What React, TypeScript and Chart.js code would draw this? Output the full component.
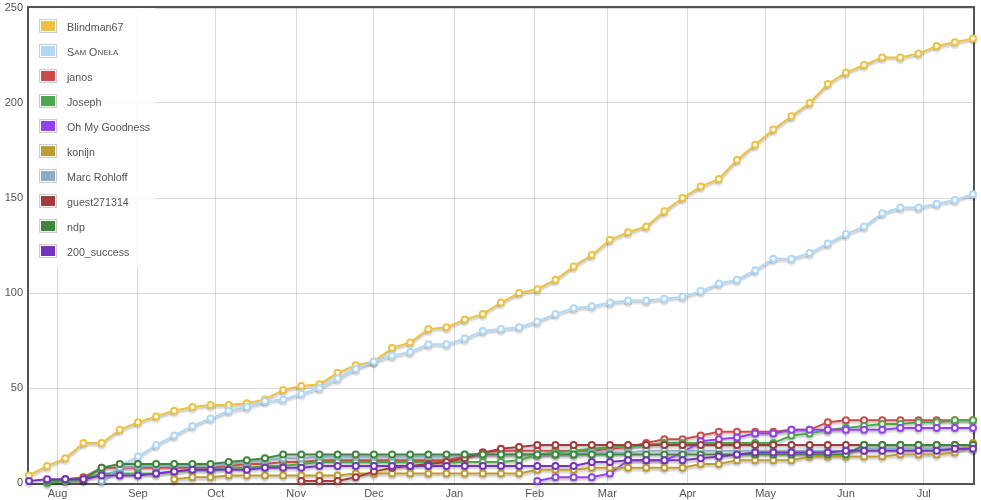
import React, { useEffect, useRef } from 'react';
import { Chart, registerables } from 'chart.js';

Chart.register(...registerables);

const DATES = [
  '2014-07-21', '2014-07-28', '2014-08-04', '2014-08-11', '2014-08-18', '2014-08-25',
  '2014-09-01', '2014-09-08', '2014-09-15', '2014-09-22', '2014-09-29',
  '2014-10-06', '2014-10-13', '2014-10-20', '2014-10-27',
  '2014-11-03', '2014-11-10', '2014-11-17', '2014-11-24',
  '2014-12-01', '2014-12-08', '2014-12-15', '2014-12-22', '2014-12-29',
  '2015-01-05', '2015-01-12', '2015-01-19', '2015-01-26',
  '2015-02-02', '2015-02-09', '2015-02-16', '2015-02-23',
  '2015-03-02', '2015-03-09', '2015-03-16', '2015-03-23', '2015-03-30',
  '2015-04-06', '2015-04-13', '2015-04-20', '2015-04-27',
  '2015-05-04', '2015-05-11', '2015-05-18', '2015-05-25',
  '2015-06-01', '2015-06-08', '2015-06-15', '2015-06-22', '2015-06-29',
  '2015-07-06', '2015-07-13', '2015-07-20',
];

const MONTH_STARTS = [
  '2014-08-01', '2014-09-01', '2014-10-01', '2014-11-01', '2014-12-01', '2015-01-01',
  '2015-02-01', '2015-03-01', '2015-04-01', '2015-05-01', '2015-06-01', '2015-07-01',
];
const MONTH_LABELS = ['Aug', 'Sep', 'Oct', 'Nov', 'Dec', 'Jan', 'Feb', 'Mar', 'Apr', 'May', 'Jun', 'Jul'];

const Y_MIN = 0;
const Y_MAX = 250;
const Y_STEP = 50;

const N = null;

const BLINDMAN67 = [4, 9, 13, 21, 21, 28, 32, 35, 38, 40, 41, 41, 42, 44, 49, 51, 52, 58, 62, 64, 71, 74, 81, 82, 86, 89, 95, 100, 102, 107, 114, 120, 128, 132, 135, 143, 150, 156, 160, 170, 178, 186, 193, 200, 210, 216, 220, 224, 224, 226, 230, 232, 234];
const SAM_ONELA = [N, N, N, N, 2, 9, 14, 20, 25, 30, 34, 38, 40, 43, 44, 47, 50, 55, 60, 64, 67, 69, 73, 73, 76, 80, 81, 82, 85, 89, 92, 93, 95, 96, 96, 97, 98, 101, 105, 107, 112, 118, 118, 121, 126, 131, 135, 142, 145, 145, 147, 149, 152];
const JANOS = [N, N, 2, 3, 8, 8, 8, 8, 8, 8, 8, 9, 10, 10, 11, 11, 12, 12, 12, 12, 12, 12, 12, 12, 14, 16, 17, 17, 17, 17, 17, 17, 18, 19, 21, 23, 23, 25, 27, 27, 27, 27, 28, 28, 32, 33, 33, 33, 33, 33, 33, 33, 33];
const JOSEPH = [N, 0, 1, 2, 5, 5, 5, 5, 6, 7, 7, 8, 8, 9, 9, 10, 11, 11, 11, 11, 11, 11, 11, 11, 11, 11, 11, 12, 15, 16, 17, 18, 19, 19, 20, 21, 21, 21, 21, 21, 21, 21, 25, 26, 28, 29, 30, 31, 31, 32, 32, 33, 33];
const OH_MY_GOODNESS = [N, N, N, N, N, N, N, N, N, N, N, N, N, N, N, N, N, N, N, N, N, N, N, N, N, N, N, N, 1, 3, 3, 3, 5, 12, 12, 12, 16, 22, 23, 24, 26, 26, 28, 28, 28, 28, 28, 28, 29, 29, 29, 29, 29];
const KONIJN = [N, N, N, N, N, N, N, N, 2, 3, 3, 4, 4, 4, 4, 4, 4, 4, 5, 5, 5, 5, 5, 5, 5, 5, 5, 5, 7, 7, 7, 8, 8, 8, 8, 8, 8, 10, 10, 12, 12, 12, 12, 14, 14, 14, 14, 14, 15, 15, 15, 16, 21];
const MARC_ROHLOFF = [N, N, N, N, 1, 8, 9, 9, 9, 9, 9, 10, 11, 12, 13, 13, 14, 14, 14, 14, 14, 14, 14, 14, 15, 15, 15, 15, 15, 15, 15, 16, 16, 16, 17, 17, 17, 17, 17, 17, 17, 17, 17, 17, 17, 17, 18, 18, 18, 18, 18, 18, 18];
const GUEST271314 = [N, N, N, N, N, N, N, N, N, N, N, N, N, N, N, 1, 1, 1, 3, 6, 8, 9, 10, 11, 13, 16, 18, 19, 20, 20, 20, 20, 20, 20, 20, 20, 20, 20, 20, 20, 20, 20, 20, 20, 20, 20, 20, 20, 20, 20, 20, 20, 20];
const NDP = [N, 1, 2, 2, 8, 10, 10, 10, 10, 10, 10, 11, 12, 13, 15, 15, 15, 15, 15, 15, 15, 15, 15, 15, 15, 15, 15, 15, 15, 15, 15, 15, 15, 15, 15, 15, 15, 15, 15, 15, 15, 15, 15, 15, 15, 15, 20, 20, 20, 20, 20, 20, 20];
const SUCCESS_200 = [1, 2, 2, 2, 4, 4, 4, 5, 6, 7, 7, 7, 7, 8, 8, 8, 9, 9, 9, 9, 9, 9, 9, 9, 9, 9, 9, 9, 9, 9, 9, 11, 11, 12, 12, 12, 12, 13, 14, 15, 16, 16, 16, 16, 16, 17, 17, 17, 17, 17, 17, 18, 18];

const SERIES_NAMES = ['Blindman67', 'Sam Oneła', 'janos', 'Joseph', 'Oh My Goodness', 'konijn', 'Marc Rohloff', 'guest271314', 'ndp', '200_success'];
const SERIES_VALUES = [BLINDMAN67, SAM_ONELA, JANOS, JOSEPH, OH_MY_GOODNESS, KONIJN, MARC_ROHLOFF, GUEST271314, NDP, SUCCESS_200];
const SERIES_COLORS = ['#edc240', '#afd8f8', '#cb4b4b', '#4da74d', '#9440ed', '#be9b33', '#8cadc6', '#a23c3c', '#3e863e', '#7633be'];

const FONT = '"Liberation Sans", Arial, Helvetica, sans-serif';
const TEXT_COLOR = '#545454';
const GRID_COLOR = 'rgba(84,84,84,0.22)';

const dayOf = (s: string) =>
  (Date.parse(s + 'T00:00:00Z') - Date.parse(DATES[0] + 'T00:00:00Z')) / 86400000;

const MONTH_DAYS = MONTH_STARTS.map(dayOf);

function drawSmallCaps(ctx: CanvasRenderingContext2D, text: string, x: number, y: number, big: number, small: number) {
  let cx = x;
  for (const ch of text) {
    const isLower = ch !== ch.toUpperCase();
    const size = isLower ? small : big;
    ctx.font = `${size}px ${FONT}`;
    const c = ch.toUpperCase();
    ctx.fillText(c, cx, y);
    cx += ctx.measureText(c).width;
  }
}

// Flot-like drop shadows drawn under each series, using the element positions
// computed by Chart.js from the scales.
function drawShadows(chart: any) {
  const ctx: CanvasRenderingContext2D = chart.ctx;
  const sin = Math.sin(Math.PI / 18);
  const cos = Math.cos(Math.PI / 18);
  const passes = [
    { w: 3, off: 2.5 },
    { w: 1.5, off: 1.75 },
  ];
  ctx.save();
  ctx.strokeStyle = 'rgba(0,0,0,0.1)';
  chart.data.datasets.forEach((_ds: any, i: number) => {
    const pts = chart.getDatasetMeta(i).data;
    if (!pts.length) return;
    passes.forEach((p) => {
      ctx.lineWidth = p.w;
      ctx.beginPath();
      pts.forEach((pt: any, k: number) => {
        const x = pt.x + sin * p.off;
        const y = pt.y + cos * p.off;
        if (k === 0) ctx.moveTo(x, y);
        else ctx.lineTo(x, y);
      });
      ctx.stroke();
    });
    // point shadows (lower half arcs)
    [{ w: 3, off: 2.5 }, { w: 1.5, off: 1.5 }].forEach((p) => {
      ctx.lineWidth = p.w;
      pts.forEach((pt: any) => {
        ctx.beginPath();
        ctx.arc(pt.x, pt.y + p.off, 3, 0, Math.PI, false);
        ctx.stroke();
      });
    });
  });
  ctx.restore();
}

const framePlugin = {
  id: 'flotFrame',
  beforeDatasetsDraw(chart: any) {
    const { ctx, chartArea: a } = chart;
    ctx.save();
    ctx.strokeStyle = '#545454';
    ctx.lineWidth = 2;
    ctx.strokeRect(a.left - 1, a.top - 1, a.right - a.left + 2, a.bottom - a.top + 2);
    ctx.restore();
    drawShadows(chart);
  },
  afterDraw(chart: any) {
    const { ctx, chartArea: a } = chart;
    ctx.save();
    ctx.fillStyle = 'rgba(255,255,255,0.85)';
    ctx.fillRect(a.left, a.top, 126, 259);
    SERIES_NAMES.forEach((name, i) => {
      const top = 19 + 25 * i;
      ctx.strokeStyle = '#cccccc';
      ctx.lineWidth = 1;
      ctx.strokeRect(39.5, top + 0.5, 17, 13);
      ctx.fillStyle = SERIES_COLORS[i];
      ctx.fillRect(41, top + 2, 14, 10);
      ctx.fillStyle = TEXT_COLOR;
      ctx.textBaseline = 'middle';
      ctx.textAlign = 'left';
      if (i === 1) {
        drawSmallCaps(ctx, name, 67, top + 9, 10.7, 8);
      } else {
        ctx.font = `10.7px ${FONT}`;
        ctx.fillText(name, 67, top + 9);
      }
    });
    ctx.restore();
  },
};

export default function App() {
  const canvasRef = useRef<HTMLCanvasElement | null>(null);

  useEffect(() => {
    if (!canvasRef.current) return;
    const datasets = SERIES_NAMES.map((name, i) => ({
      label: name,
      data: SERIES_VALUES[i]
        .map((v, j) => (v === null ? null : { x: dayOf(DATES[j]), y: v }))
        .filter((p) => p !== null) as { x: number; y: number }[],
      borderColor: SERIES_COLORS[i],
      backgroundColor: '#ffffff',
      pointBackgroundColor: '#ffffff',
      pointBorderColor: SERIES_COLORS[i],
      pointRadius: 3,
      pointBorderWidth: 2,
      pointHoverRadius: 3,
      borderWidth: 2,
      tension: 0,
      fill: false,
      clip: false as any,
      order: -i,
    }));

    const chart = new Chart(canvasRef.current, {
      type: 'line',
      data: { datasets },
      options: {
        animation: false,
        responsive: false,
        events: [],
        layout: { padding: { left: 0, top: 8, right: 8, bottom: 0 } },
        plugins: {
          legend: { display: false },
          tooltip: { enabled: false },
        },
        scales: {
          x: {
            type: 'linear',
            min: 0,
            max: dayOf(DATES[DATES.length - 1]),
            afterBuildTicks: (scale: any) => {
              scale.ticks = MONTH_DAYS.map((v) => ({ value: v }));
            },
            afterFit: (scale: any) => {
              scale.height = 17;
              scale.paddingLeft = 0;
              scale.paddingRight = 0;
            },
            grid: { color: GRID_COLOR, lineWidth: 1, drawTicks: false },
            border: { display: false },
            ticks: {
              color: TEXT_COLOR,
              font: { family: FONT, size: 11 },
              padding: 4,
              autoSkip: false,
              maxRotation: 0,
              callback: (value: any) => {
                const idx = MONTH_DAYS.indexOf(Number(value));
                return idx >= 0 ? MONTH_LABELS[idx] : '';
              },
            },
          },
          y: {
            min: Y_MIN,
            max: Y_MAX,
            afterFit: (scale: any) => {
              scale.width = 29;
              scale.paddingTop = 0;
              scale.paddingBottom = 0;
            },
            grid: { color: GRID_COLOR, lineWidth: 1, drawTicks: false },
            border: { display: false },
            ticks: {
              stepSize: Y_STEP,
              color: TEXT_COLOR,
              font: { family: FONT, size: 11 },
              padding: 6,
            },
          },
        },
      },
      plugins: [framePlugin],
    });
    return () => chart.destroy();
  }, []);

  return (
    <div style={{ position: 'absolute', left: 0, top: 0, width: 981, height: 500, background: '#fff' }}>
      <canvas ref={canvasRef} width={981} height={500} style={{ display: 'block' }} />
    </div>
  );
}
